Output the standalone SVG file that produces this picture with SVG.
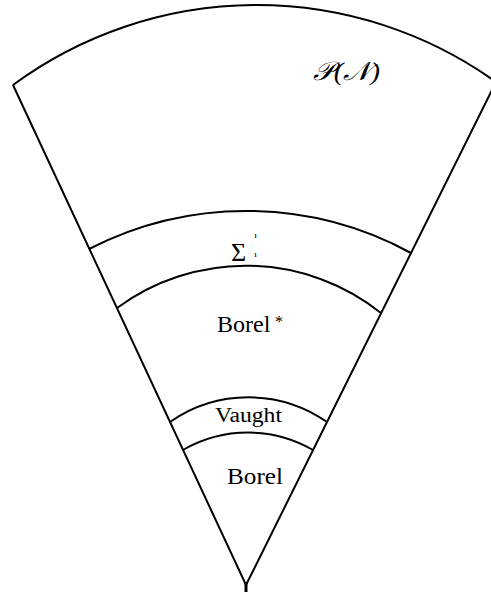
<svg xmlns="http://www.w3.org/2000/svg" width="491" height="596" viewBox="0 0 491 596">
<style>
.ln{fill:none;stroke:#000;stroke-width:2;stroke-linejoin:miter}
.t{font-family:"Liberation Serif","Times New Roman",serif;fill:#000}
</style>
<rect width="491" height="596" fill="#fff"/>
<g id="wedge">
<path class="ln" d="M13,85 L246,585 L496,82"/>
<path class="ln" d="M13,85 A411,411 0 0 1 496,82"/>
<line x1="246" y1="582" x2="246" y2="592" stroke="#000" stroke-width="3"/>
</g>
<g id="region-PN">
<text class="t" x="313" y="80" font-size="26" font-style="italic" font-family="DejaVu Serif, serif" textLength="67" lengthAdjust="spacingAndGlyphs">𝒫(𝒩)</text>
</g>
<g id="region-sigma">
<path class="ln" d="M89,249 A344,344 0 0 1 411,253"/>
<text class="t" x="231" y="261" font-size="26">Σ</text>
<text class="t" x="254" y="238" font-size="6" font-weight="bold">1</text>
<text class="t" x="254" y="257" font-size="6" font-weight="bold">1</text>
</g>
<g id="region-borelstar">
<path class="ln" d="M117,308 A217,217 0 0 1 381,313"/>
<text class="t" x="217" y="332" font-size="24">Borel</text>
<text class="t" x="275" y="327" font-size="16">*</text>
</g>
<g id="region-vaught">
<path class="ln" d="M170,422 A137,137 0 0 1 327,422"/>
<text class="t" x="215" y="422" font-size="20" textLength="67" lengthAdjust="spacingAndGlyphs">Vaught</text>
</g>
<g id="region-borel">
<path class="ln" d="M183,450 A130,130 0 0 1 313,450"/>
<text class="t" x="227" y="484" font-size="24" textLength="56" lengthAdjust="spacingAndGlyphs">Borel</text>
</g>
</svg>
